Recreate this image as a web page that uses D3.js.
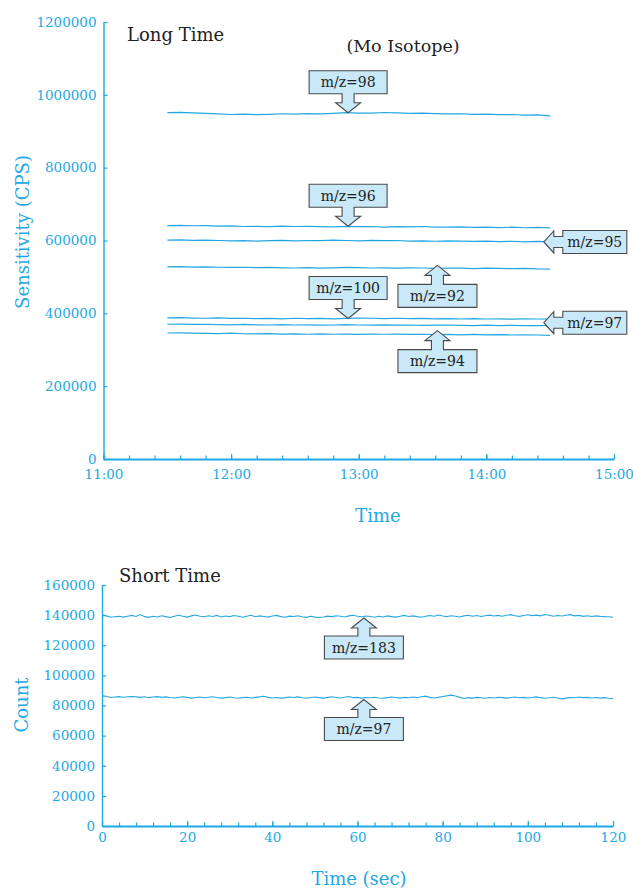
<!DOCTYPE html>
<html>
<head>
<meta charset="utf-8">
<script src="https://cdn.jsdelivr.net/npm/d3@7"></script>
<style>
  body { margin: 0; background: #fff; }
  svg { display: block; font-family: "DejaVu Serif", "Liberation Serif", serif; }
</style>
</head>
<body>
<svg id="chart" width="633" height="889"></svg>
<script>
// ---- Long-time run: Mo isotope sensitivity (CPS), one reading every 6 min from 11:30 to 14:30
const longStart = "11:30";
const longStepMin = 6;
const mz98 = [951000, 952000, 950500, 949000, 947500, 946000, 947000, 945500, 946500, 948000,
              947000, 948500, 947500, 949000, 951000, 950000, 949500, 951500, 950500, 949000,
              950000, 948500, 947500, 948000, 946500, 947000, 945500, 946000, 944500, 945000, 942000];
const mz96 = [641000, 641500, 640500, 641000, 639500, 640000, 638500, 639000, 638000, 639500,
              638500, 639000, 638000, 637500, 639000, 638000, 638500, 637000, 638000, 637500,
              638500, 637000, 636500, 637500, 636000, 637000, 635500, 636500, 635000, 636000, 634500];
const mz95 = [601000, 601500, 600500, 601000, 600000, 599000, 599500, 598500, 599500, 600500,
              599000, 600000, 599500, 601000, 600000, 599000, 600500, 599500, 600000, 598500,
              599000, 598000, 599000, 598500, 597500, 598500, 597000, 598000, 596500, 597500, 596000];
const mz92 = [527500, 528000, 527000, 527500, 526500, 526000, 526500, 525500, 526000, 525000,
              524500, 525500, 524000, 525000, 526000, 525500, 524500, 525000, 524000, 525000,
              524500, 523500, 524500, 524000, 523000, 524000, 523500, 522500, 523500, 522000, 521500];
const mz100 = [387500, 388000, 387000, 386500, 387500, 386000, 386500, 385500, 386000, 385000,
               386500, 385500, 386000, 385000, 386000, 387000, 386500, 385500, 386500, 385500,
               386000, 385000, 385500, 384500, 385500, 384500, 385000, 384000, 385000, 384500, 384000];
const mz97 = [370000, 370500, 369500, 370000, 369000, 368500, 369500, 368500, 368000, 369000,
              368000, 368500, 367500, 368000, 369000, 368000, 367500, 368500, 367500, 368000,
              367000, 367500, 368000, 367000, 366500, 367500, 366500, 367000, 366000, 366500, 366000];
const mz94 = [346000, 346500, 345500, 345000, 344500, 345500, 344000, 343500, 344500, 343000,
              343500, 342500, 343500, 342500, 343000, 342000, 343000, 342500, 343000, 342000,
              342500, 341500, 342000, 341000, 342000, 341000, 341500, 340500, 341000, 340500, 339500];
const longXTicks = ["11:00", "12:00", "13:00", "14:00", "15:00"];
const longMinorStepMin = 12;
const longYTicks = [0, 200000, 400000, 600000, 800000, 1000000, 1200000];

// ---- Short-time run: counts, one reading per second over 120 s
const shortStepSec = 1;
const mz183Short = [
  140200, 139500, 138600, 138900, 139200, 138700, 139300, 139800, 139100, 140400,
  139000, 138500, 139200, 138800, 139600, 139000, 138400, 139300, 139900, 139200,
  138700, 139500, 140100, 139300, 138900, 139600, 139100, 139800, 138800, 139400,
  139000, 139700, 139200, 138600, 139300, 139900, 138900, 139500, 139100, 138700,
  139400, 139800, 139000, 138600, 139300, 139100, 139600, 138900, 138500, 139200,
  138700, 138400, 138800, 139300, 139000, 139600, 139200, 138800, 139500, 139900,
  139300, 138900, 139400, 139100, 138600, 139200, 138800, 139500, 139000, 138700,
  139300, 139800, 139100, 139500, 139000, 138600, 139200, 139700, 139300, 140100,
  139400, 139000, 139600, 139200, 138800, 139500, 139900, 139300, 139700, 139100,
  139600, 140000, 139400, 139800, 139300, 139900, 140300, 139600, 139200, 139800,
  140200, 139700, 140000, 139500, 140400, 139900, 139300, 139700, 139400, 139900,
  140300, 139500, 139800, 139200, 139600, 139100, 139500, 139200, 139000, 138900,
  138600];
const mz97Short = [
  86400, 86100, 85300, 85600, 85900, 85500, 85800, 86000, 85700, 85400,
  85800, 85200, 85600, 85900, 85400, 85700, 85300, 85000, 85500, 85800,
  85400, 84900, 85300, 85600, 85100, 85500, 85800, 85300, 84900, 85200,
  85600, 85100, 84800, 85200, 85500, 85000, 85400, 85700, 86100, 85400,
  85000, 85300, 84900, 85200, 85600, 85300, 85700, 85100, 84800, 85300,
  85600, 85200, 84900, 85400, 85800, 85300, 85000, 85500, 86000, 85200,
  85400, 84900, 85300, 85100, 85500, 85000, 84800, 85200, 85600, 85300,
  84900, 85400, 85100, 85600, 85200, 85800, 86200, 85400, 85000, 85500,
  85900, 86500, 86900, 86300, 85400, 84700, 85200, 84900, 85400, 85100,
  84800, 85300, 85000, 85500, 85200, 84900, 85300, 85600, 85100, 85400,
  85000, 85300, 85700, 85200, 84800, 85100, 85500, 85000, 84400, 84900,
  85300, 85100, 85600, 85200, 85400, 85000, 85300, 84900, 85200, 84800,
  84600];
const shortXTicks = [0, 20, 40, 60, 80, 100, 120];
const shortMinorStepSec = 4;
const shortYTicks = [0, 20000, 40000, 60000, 80000, 100000, 120000, 140000, 160000];

// ---- styling
const axisBlue = "#1ea8e4";
const lineBlue = "#27a7e2";
const ink = "#222";
const calloutFill = "#c9e9f9";
const calloutStroke = "#4a4a4a";

const svg = d3.select("#chart");
const toMin = s => { const [h, m] = s.split(":").map(Number); return h * 60 + m; };

// series -> arrays of {t, v}
const longT0 = toMin(longStart);
const asPoints = (vals, t0, step) => vals.map((v, i) => ({ t: t0 + i * step, v }));
const longSeries = {
  "m/z=98": asPoints(mz98, longT0, longStepMin),
  "m/z=96": asPoints(mz96, longT0, longStepMin),
  "m/z=95": asPoints(mz95, longT0, longStepMin),
  "m/z=92": asPoints(mz92, longT0, longStepMin),
  "m/z=100": asPoints(mz100, longT0, longStepMin),
  "m/z=97": asPoints(mz97, longT0, longStepMin),
  "m/z=94": asPoints(mz94, longT0, longStepMin)
};
const shortSeries = {
  "m/z=183": asPoints(mz183Short, 0, shortStepSec),
  "m/z=97": asPoints(mz97Short, 0, shortStepSec)
};

// ---- scales
const xL = d3.scaleLinear().domain([toMin(longXTicks[0]), toMin(longXTicks[longXTicks.length - 1])]).range([103.5, 614]);
const yL = d3.scaleLinear().domain([0, 1200000]).range([459, 22]);
const xS = d3.scaleLinear().domain([shortXTicks[0], shortXTicks[shortXTicks.length - 1]]).range([102, 613]);
const yS = d3.scaleLinear().domain([0, 160000]).range([826, 585]);

function styleAxis(g, fontSize) {
  g.attr("font-family", null).attr("font-size", null);
  g.selectAll("path.domain").attr("stroke", axisBlue);
  g.selectAll(".tick line").attr("stroke", axisBlue).attr("stroke-width", 1.2);
  g.selectAll(".tick text").attr("fill", axisBlue).style("font-size", fontSize + "px");
}

function drawAxes(x, y, xVals, xFmt, xMinorVals, yVals, xPad) {
  const [x0] = x.range();
  const [y0] = y.range();
  // y axis with inward ticks
  const gy = svg.append("g").attr("transform", `translate(${x0},0)`)
    .call(d3.axisLeft(y).tickValues(yVals).tickFormat(d => d).tickSize(-4).tickSizeOuter(0).tickPadding(7));
  styleAxis(gy, 13.5);
  gy.select("path.domain").attr("stroke-width", 1.4);
  // minor x ticks
  const gm = svg.append("g").attr("transform", `translate(0,${y0})`)
    .call(d3.axisBottom(x).tickValues(xMinorVals).tickFormat("").tickSize(-3.5).tickSizeOuter(0));
  gm.select("path.domain").remove();
  gm.selectAll(".tick line").attr("stroke", axisBlue).attr("stroke-width", 1.2);
  // major x ticks + labels
  const gx = svg.append("g").attr("transform", `translate(0,${y0})`)
    .call(d3.axisBottom(x).tickValues(xVals).tickFormat(xFmt).tickSize(-5).tickSizeOuter(0).tickPadding(xPad));
  styleAxis(gx, 13.5);
  gx.select("path.domain").attr("stroke-width", 2);
}

// ---- callout: a box with a block arrow pointing at a line
function callout(o) {
  const sw = o.shaft / 2, hw = o.head / 2, hl = 10;
  let p, bx, by;
  if (o.dir === "down") {           // box above, arrow points down to tip
    const yb = o.ty - o.len;         // box bottom
    bx = o.tx - o.w / 2; by = yb - o.h;
    p = `M${bx},${by}H${bx + o.w}V${yb}H${o.tx + sw}V${o.ty - hl}H${o.tx + hw}L${o.tx},${o.ty}L${o.tx - hw},${o.ty - hl}H${o.tx - sw}V${yb}H${bx}Z`;
  } else if (o.dir === "up") {      // box below, arrow points up to tip
    const yt = o.ty + o.len;         // box top
    bx = o.tx - o.w / 2; by = yt;
    p = `M${bx},${yt}H${o.tx - sw}V${o.ty + hl}H${o.tx - hw}L${o.tx},${o.ty}L${o.tx + hw},${o.ty + hl}H${o.tx + sw}V${yt}H${bx + o.w}V${yt + o.h}H${bx}Z`;
  } else {                          // box to the right, arrow points left
    const xl = o.tx + o.len;         // box left
    bx = xl; by = o.ty - o.h / 2;
    p = `M${xl},${by}H${xl + o.w}V${by + o.h}H${xl}V${o.ty + sw}H${o.tx + hl}V${o.ty + hw}L${o.tx},${o.ty}L${o.tx + hl},${o.ty - hw}V${o.ty - sw}H${xl}Z`;
  }
  svg.append("path").attr("d", p)
    .attr("fill", calloutFill).attr("stroke", calloutStroke).attr("stroke-width", 1.1)
    .attr("stroke-linejoin", "miter");
  svg.append("text").attr("x", bx + o.w / 2).attr("y", by + o.h / 2)
    .attr("text-anchor", "middle").attr("dominant-baseline", "central")
    .attr("fill", ink).style("font-size", "14px").text(o.label);
}

function valueAt(points, t) {
  const i = d3.bisector(d => d.t).center(points, t);
  return points[i].v;
}

const line = (x, y) => d3.line().x(d => x(d.t)).y(d => y(d.v));

// ================= Long Time panel =================
drawAxes(xL, yL,
  longXTicks.map(toMin), (d, i) => longXTicks[i],
  d3.range(toMin(longXTicks[0]), toMin(longXTicks[longXTicks.length - 1]) + 1, longMinorStepMin),
  longYTicks, 10);

const lgL = line(xL, yL);
Object.values(longSeries).forEach(pts => {
  svg.append("path").attr("d", lgL(pts)).attr("fill", "none")
    .attr("stroke", lineBlue).attr("stroke-width", 1.2);
});

svg.append("text").attr("x", 127).attr("y", 41).attr("fill", ink).style("font-size", "18px").text("Long Time");
svg.append("text").attr("x", 403).attr("y", 52).attr("text-anchor", "middle").attr("fill", ink).style("font-size", "17.5px").text("(Mo Isotope)");
svg.append("text").attr("transform", "translate(22,232) rotate(-90)").attr("text-anchor", "middle")
  .attr("dominant-baseline", "central").attr("fill", axisBlue).style("font-size", "18px").text("Sensitivity (CPS)");
svg.append("text").attr("x", 378).attr("y", 522).attr("text-anchor", "middle").attr("fill", axisBlue).style("font-size", "18px").text("Time");

const longCallouts = [
  { label: "m/z=98",  at: "12:55", dir: "down", w: 78, dy: 0 },
  { label: "m/z=96",  at: "12:55", dir: "down", w: 78, dy: 0 },
  { label: "m/z=100", at: "12:55", dir: "down", w: 78, dy: 0 },
  { label: "m/z=92",  at: "13:37", dir: "up",   w: 79, dy: -3 },
  { label: "m/z=94",  at: "13:37", dir: "up",   w: 79, dy: -4 },
  { label: "m/z=95",  at: "14:27", dir: "left", w: 64, dy: 0 },
  { label: "m/z=97",  at: "14:27", dir: "left", w: 64, dy: -3 }
];
longCallouts.forEach(c => {
  const t = toMin(c.at);
  callout({
    label: c.label, dir: c.dir, w: c.w, h: 23,
    tx: xL(t), ty: yL(valueAt(longSeries[c.label], t)) + c.dy,
    len: 19, shaft: c.dir === "left" ? 11 : 12, head: c.dir === "left" ? 22 : 25
  });
});

// ================= Short Time panel =================
drawAxes(xS, yS,
  shortXTicks, d => d,
  d3.range(shortXTicks[0], shortXTicks[shortXTicks.length - 1] + 1, shortMinorStepSec),
  shortYTicks, 6);

const lgS = line(xS, yS);
Object.values(shortSeries).forEach(pts => {
  svg.append("path").attr("d", lgS(pts)).attr("fill", "none")
    .attr("stroke", lineBlue).attr("stroke-width", 1.1);
});

svg.append("text").attr("x", 119).attr("y", 582).attr("fill", ink).style("font-size", "18px").text("Short Time");
svg.append("text").attr("transform", "translate(21,705) rotate(-90)").attr("text-anchor", "middle")
  .attr("dominant-baseline", "central").attr("fill", axisBlue).style("font-size", "18px").text("Count");
svg.append("text").attr("x", 359).attr("y", 885).attr("text-anchor", "middle").attr("fill", axisBlue).style("font-size", "18px").text("Time (sec)");

const shortCallouts = [
  { label: "m/z=183", at: 61.5, dir: "up", w: 79 },
  { label: "m/z=97",  at: 61.5, dir: "up", w: 79 }
];
shortCallouts.forEach(c => {
  callout({
    label: c.label, dir: c.dir, w: c.w, h: 23,
    tx: xS(c.at), ty: yS(valueAt(shortSeries[c.label], c.at)) + 2,
    len: 18, shaft: 12, head: 25
  });
});
</script>
</body>
</html>
